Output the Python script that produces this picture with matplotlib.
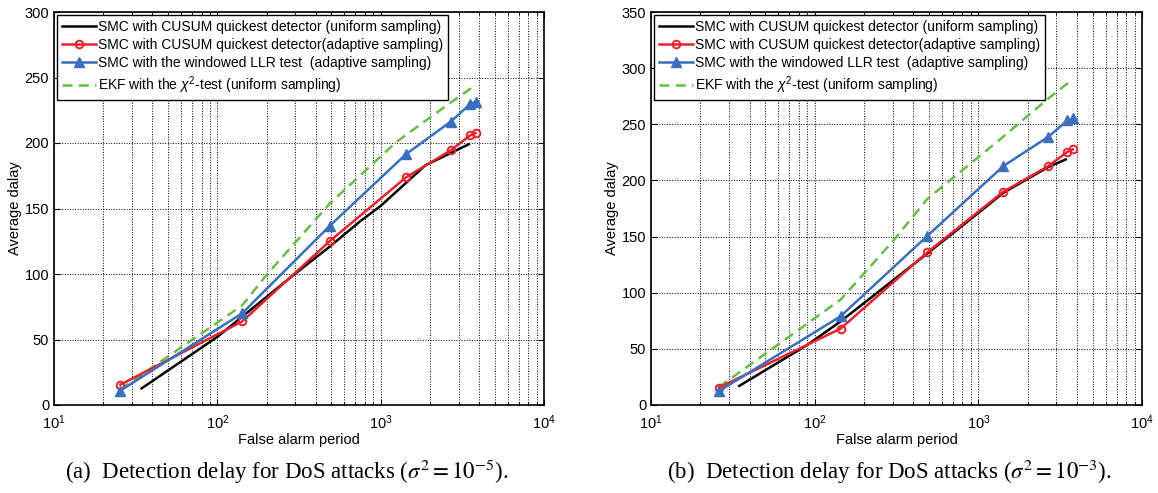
import matplotlib.pyplot as plt
from matplotlib.ticker import LogLocator, MultipleLocator, NullFormatter

# --- Data ---
# (a) sigma^2 = 1e-5
a_x_adapt = [25.5, 142, 490, 1430, 2690, 3530, 3810]
a_red = [15.5, 63.8, 125.3, 173.8, 194.5, 205.8, 207.6]
a_blue = [11, 70, 137, 191.5, 216.4, 229.7, 231.3]
a_x_black = [34.4, 100, 298, 489, 745, 1000, 1880, 3460]
a_black = [12.7, 52, 100, 121, 140, 152, 183, 199]
a_x_green = [25.5, 142, 199, 490, 1253, 2690, 3840]
a_green = [12, 76, 99, 154, 201, 231, 244.5]

# (b) sigma^2 = 1e-3
b_x_adapt = [26, 144, 488, 1422, 2680, 3500, 3776]
b_red = [15.5, 68, 136, 190, 212.8, 225.5, 227.6]
b_blue = [12.4, 79, 150.6, 212.8, 238.9, 253.4, 255.2]
b_x_black = [34.6, 89, 144.5, 488, 1000, 1422, 2680, 3420]
b_black = [17, 53, 74.6, 135, 171, 189, 212, 218.7]
b_x_green = [26, 144.5, 305, 488, 1422, 2680, 3500, 3776]
b_green = [16, 94, 147, 183.5, 239, 273, 286.3, 289]

labels = [
    "SMC with CUSUM quickest detector (uniform sampling)",
    "SMC with CUSUM quickest detector(adaptive sampling)",
    "SMC with the windowed LLR test  (adaptive sampling)",
    "EKF with the $\\chi^2$-test (uniform sampling)",
]
captions = [
    "(a)  Detection delay for DoS attacks ($\\sigma^2 = 10^{-5}$).",
    "(b)  Detection delay for DoS attacks ($\\sigma^2 = 10^{-3}$).",
]

plt.rcParams["font.family"] = ["Liberation Sans", "DejaVu Sans"]
plt.rcParams["mathtext.fontset"] = "custom"
plt.rcParams["mathtext.rm"] = "Liberation Sans"
plt.rcParams["mathtext.it"] = "Liberation Sans:italic"
plt.rcParams["mathtext.bf"] = "Liberation Sans:bold"

RED = "#e8222c"
BLUE = "#3b6fbe"
GREEN = "#68bd45"

fig = plt.figure(figsize=(11.58, 4.93), dpi=100)
ax_a = fig.add_axes([54 / 1158, 88 / 493, 490 / 1158, 393 / 493])
ax_b = fig.add_axes([651 / 1158, 88 / 493, 491 / 1158, 393 / 493])


def draw_panel(ax, xa, red, blue, xk, black, xg, green, ymax):
    ax.plot(xk, black, color="black", lw=1.8, label=labels[0], zorder=3)
    ax.plot(xa, red, color=RED, lw=1.8, marker="o", ms=5.5, mfc="none",
            mec=RED, mew=1.4, label=labels[1], zorder=4)
    ax.plot(xa, blue, color=BLUE, lw=1.8, marker="^", ms=7, mfc=BLUE,
            mec=BLUE, label=labels[2], zorder=4)
    ax.plot(xg, green, color=GREEN, lw=1.8, ls=(0, (4, 2.5)), label=labels[3], zorder=3)

    ax.set_xscale("log")
    ax.set_xlim(10, 1e4)
    ax.set_ylim(0, ymax)
    ax.yaxis.set_major_locator(MultipleLocator(50))
    ax.xaxis.set_major_locator(LogLocator(base=10))
    ax.xaxis.set_minor_locator(LogLocator(base=10, subs=range(2, 10)))
    ax.xaxis.set_minor_formatter(NullFormatter())

    ax.grid(True, which="major", ls=":", color="black", lw=0.7)
    ax.grid(True, which="minor", axis="x", ls=":", color="black", lw=0.7)
    ax.tick_params(which="both", direction="in", top=True, right=True, labelsize=10.5)
    ax.tick_params(which="major", length=4)
    ax.tick_params(which="minor", length=2)
    ax.tick_params(axis="x", pad=6)
    for s in ax.spines.values():
        s.set_linewidth(1.2)

    ax.set_xlabel("False alarm period", fontsize=10.5, labelpad=1)
    ax.set_ylabel("Average dalay", fontsize=10.5, labelpad=2)

    leg = ax.legend(loc="upper left", fontsize=10, fancybox=False, framealpha=1,
                    edgecolor="black", borderaxespad=0.25, handlelength=2.4,
                    handletextpad=0.2, labelspacing=0.28, borderpad=0.35)
    leg.get_frame().set_linewidth(1.0)


draw_panel(ax_a, a_x_adapt, a_red, a_blue, a_x_black, a_black, a_x_green, a_green, 300)
draw_panel(ax_b, b_x_adapt, b_red, b_blue, b_x_black, b_black, b_x_green, b_green, 350)

fig.text(287 / 1158, 1 - 472 / 493, captions[0], ha="center", va="center",
         fontsize=16.5, family="Liberation Serif", math_fontfamily="stix")
fig.text(889 / 1158, 1 - 472 / 493, captions[1], ha="center", va="center",
         fontsize=16.5, family="Liberation Serif", math_fontfamily="stix")

fig.savefig("out.png", dpi=100)
